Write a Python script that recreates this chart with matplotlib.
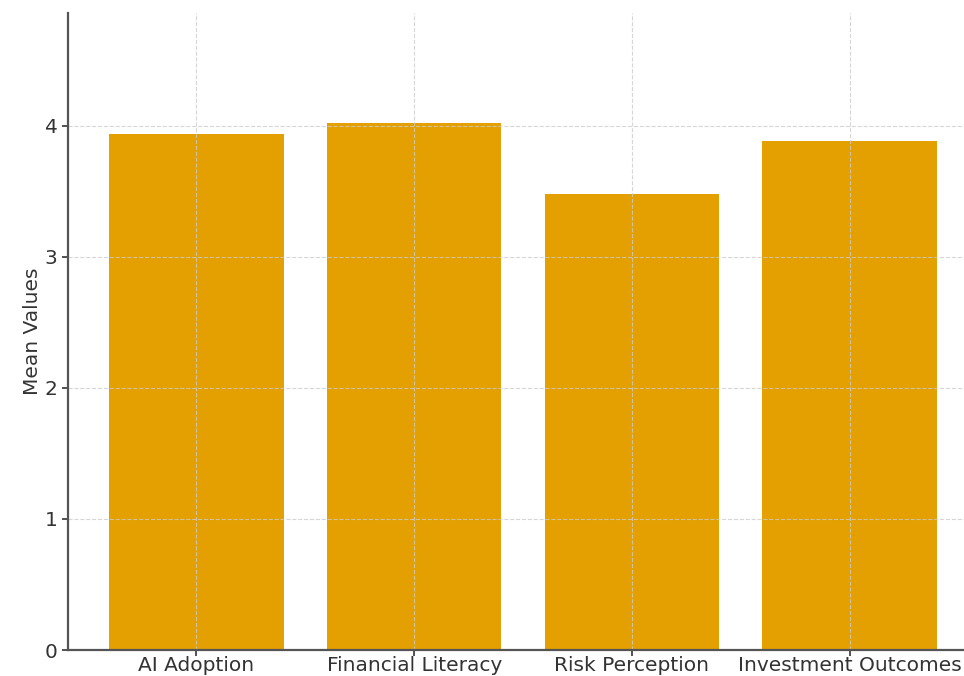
import matplotlib
matplotlib.use("Agg")
import matplotlib.pyplot as plt

# Mean scores per construct
categories = ["AI Adoption", "Financial Literacy", "Risk Perception", "Investment Outcomes"]
means = [3.94, 4.02, 3.48, 3.88]

fig = plt.figure(figsize=(9.64, 6.76), dpi=100)
ax = fig.add_axes([68 / 964, 1 - 650 / 676, (978 - 68) / 964, (650 - 13) / 676])

ax.bar(categories, means, color="#E3A000", width=0.8)
ax.set_xlim(-0.59, 3.59)
ax.set_ylim(0, 4.86)
ax.set_yticks([0, 1, 2, 3, 4])

ax.set_ylabel("Mean Values", fontsize=14.5, color="#333333", labelpad=2)
ax.tick_params(labelsize=14.5, colors="#333333", width=1.2, length=4)
ax.tick_params(axis="x", pad=0.5)
ax.grid(True, linestyle="--", color="#cccccc", linewidth=0.8, alpha=0.8)

for side in ["top", "right"]:
    ax.spines[side].set_visible(False)
for side in ["left", "bottom"]:
    ax.spines[side].set_color("#555555")
    ax.spines[side].set_linewidth(1.6)

fig.savefig("out.png", dpi=100)
